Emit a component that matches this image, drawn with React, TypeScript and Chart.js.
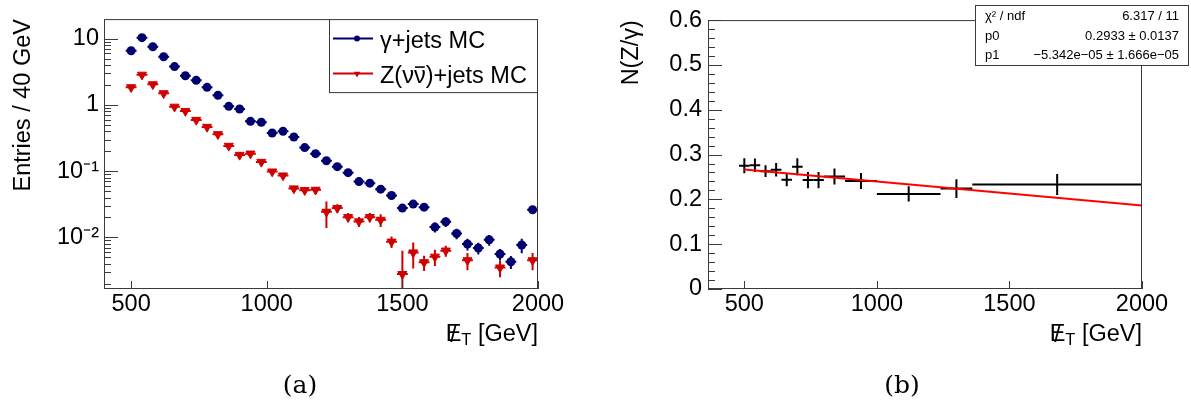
import React, { useEffect, useRef } from 'react';
import { Chart, registerables } from 'chart.js';

Chart.register(...registerables);

const FONT = "'Liberation Sans', Arial, Helvetica, sans-serif";
const SERIF = "'DejaVu Serif', 'Liberation Serif', serif";
const BLUE = '#00006e';
const RED = '#d00000';

// ---------- panel (a): MET spectra ----------
const metBins = [500, 540, 580, 620, 660, 700, 740, 780, 820, 860, 900, 940, 980, 1020, 1060, 1100, 1140, 1180, 1220, 1260, 1300, 1340, 1380, 1420, 1460, 1500, 1540, 1580, 1620, 1660, 1700, 1740, 1780, 1820, 1860, 1900, 1940, 1980];
const metBinHalfWidth = 20;
const gammaJets = [6.6, 10.4, 7.6, 5.35, 3.8, 2.77, 2.36, 1.85, 1.4, 0.955, 0.87, 0.567, 0.548, 0.378, 0.4, 0.329, 0.227, 0.184, 0.144, 0.117, 0.095, 0.0697, 0.066, 0.0535, 0.0429, 0.0277, 0.0318, 0.0286, 0.0143, 0.0172, 0.01145, 0.00793, 0.0069, 0.0092, 0.0056, 0.00428, 0.00766, 0.0261];
const gammaJetsErr = [0.12, 0.18, 0.14, 0.11, 0.085, 0.07, 0.062, 0.052, 0.043, 0.034, 0.031, 0.024, 0.023, 0.018, 0.019, 0.016, 0.013, 0.011, 0.0095, 0.0085, 0.0075, 0.0062, 0.006, 0.0052, 0.0046, 0.0036, 0.0039, 0.0036, 0.0025, 0.0028, 0.0021, 0.0016, 0.0014, 0.0017, 0.0011, 0.00095, 0.0019, 0.0035];
const zNuNuJets = [1.85, 2.86, 2.05, 1.5, 0.94, 0.81, 0.594, 0.466, 0.361, 0.241, 0.176, 0.184, 0.138, 0.0986, 0.0859, 0.0547, 0.0516, 0.0523, 0.0243, 0.0277, 0.0202, 0.0174, 0.0202, 0.0184, 0.0086, 0.00279, 0.0059, 0.0042, 0.0051, 0.0063, null, 0.0045, null, null, 0.0035, null, null, 0.0045];
const zNuNuJetsErr = [0.07, 0.11, 0.08, 0.065, 0.045, 0.04, 0.032, 0.027, 0.022, 0.016, 0.013, 0.013, 0.011, 0.0085, 0.008, 0.0055, 0.0053, 0.0055, 0.0105, 0.004, 0.0032, 0.003, 0.0032, 0.004, 0.0017, 0.0035, 0.0025, 0.0011, 0.0014, 0.0012, null, 0.0013, null, null, 0.001, null, null, 0.0013];
const legendLabels = ['γ+jets MC', 'Z(νν̄)+jets MC'];
const xTicks = [500, 1000, 1500, 2000];
const logTicks = [0.01, 0.1, 1, 10];
const logTickLabels = ['10⁻²', '10⁻¹', '1', '10'];

// ---------- panel (b): ratio with linear fit ----------
const ratioX = [500, 540, 580, 620, 660, 700, 740, 780, 840, 940, 1120, 1300, 1680];
const ratioXErr = [20, 20, 20, 20, 20, 20, 20, 20, 40, 60, 120, 60, 320];
const ratioY = [0.275, 0.276, 0.263, 0.266, 0.244, 0.273, 0.243, 0.243, 0.251, 0.241, 0.212, 0.224, 0.233];
const ratioYErr = [0.017, 0.015, 0.013, 0.015, 0.015, 0.019, 0.018, 0.018, 0.018, 0.018, 0.017, 0.021, 0.0235];
const fitX = [500, 2000];
const fitY = [0.2666, 0.1865];
const ratioTicks = [0, 0.1, 0.2, 0.3, 0.4, 0.5, 0.6];
const statsRows = [
  ['χ² / ndf', '6.317 / 11'],
  ['p0', '0.2933 ± 0.0137'],
  ['p1', '−5.342e−05 ± 1.666e−05'],
];

const TICK_FONT = { family: FONT, size: 23.5 };

// draw text, rendering a combining macron (U+0304) as an overline over the previous glyph
function drawOverlinedText(ctx: CanvasRenderingContext2D, text: string, x: number, y: number, size: number) {
  const chars = Array.from(text);
  let cx = x;
  for (let i = 0; i < chars.length; i++) {
    const ch = chars[i];
    if (ch === '\u0304') continue;
    const w = ctx.measureText(ch).width;
    ctx.fillText(ch, cx, y);
    if (chars[i + 1] === '\u0304') {
      ctx.save();
      ctx.strokeStyle = ctx.fillStyle as string;
      ctx.lineWidth = 1.6;
      ctx.beginPath();
      const by = y - size * 0.66;
      ctx.moveTo(cx + w * 0.08, by);
      ctx.lineTo(cx + w * 0.92, by);
      ctx.stroke();
      ctx.restore();
    }
    cx += w;
  }
}

// ---------- plugins ----------
const errorBarPlugin = {
  id: 'errorBars',
  beforeDatasetsDraw(chart: any) {
    const { ctx, chartArea, scales } = chart;
    ctx.save();
    ctx.beginPath();
    ctx.rect(chartArea.left, chartArea.top, chartArea.right - chartArea.left, chartArea.bottom - chartArea.top);
    ctx.clip();
    chart.data.datasets.forEach((ds: any) => {
      if (!ds.errorBars) return;
      const { xErr, yErr, color, width } = ds.errorBars;
      ctx.strokeStyle = color;
      ctx.lineWidth = width;
      ds.data.forEach((p: any, i: number) => {
        const ex = Array.isArray(xErr) ? xErr[i] : xErr;
        const ey = yErr[i];
        const py = scales.y.getPixelForValue(p.y);
        const px = scales.x.getPixelForValue(p.x);
        ctx.beginPath();
        ctx.moveTo(scales.x.getPixelForValue(p.x - ex), py);
        ctx.lineTo(scales.x.getPixelForValue(p.x + ex), py);
        const lo = p.y - ey;
        const yLo = lo > 0 ? scales.y.getPixelForValue(lo) : chartArea.bottom + 5;
        ctx.moveTo(px, scales.y.getPixelForValue(p.y + ey));
        ctx.lineTo(px, yLo);
        ctx.stroke();
      });
    });
    ctx.restore();
  },
};

const rootAxesPlugin = {
  id: 'rootAxes',
  afterDraw(chart: any, _a: any, opts: any) {
    const { ctx, chartArea, scales } = chart;
    const { left, right, top, bottom } = chartArea;
    ctx.save();
    ctx.strokeStyle = '#3a3a3a';
    ctx.lineWidth = 1;
    ctx.strokeRect(left + 0.5, top + 0.5, right - left - 1, bottom - top - 1);
    ctx.beginPath();
    (opts.yMajor || []).forEach((v: number) => {
      const py = Math.round(scales.y.getPixelForValue(v)) + 0.5;
      ctx.moveTo(left, py);
      ctx.lineTo(left + 14, py);
    });
    (opts.yMinor || []).forEach((v: number) => {
      const py = Math.round(scales.y.getPixelForValue(v)) + 0.5;
      if (py < top || py > bottom) return;
      ctx.moveTo(left, py);
      ctx.lineTo(left + 7, py);
    });
    (opts.xMajor || []).forEach((v: number) => {
      const px = Math.round(scales.x.getPixelForValue(v)) + 0.5;
      ctx.moveTo(px, bottom);
      ctx.lineTo(px, bottom - 8);
    });
    ctx.stroke();

    // x-axis title: E-slash with subscript T
    if (opts.xTitle) {
      const size = 23.5;
      const big = `${size}px ${FONT}`;
      const small = `${size * 0.7}px ${FONT}`;
      const base = bottom + opts.xTitleOffset;
      ctx.fillStyle = '#000';
      ctx.textBaseline = 'alphabetic';
      ctx.font = big;
      const wE = ctx.measureText(opts.xTitle.main).width;
      const wRest = ctx.measureText(opts.xTitle.rest).width;
      ctx.font = small;
      const wSub = ctx.measureText(opts.xTitle.sub).width;
      let x = right - (wE + wSub + wRest);
      ctx.font = big;
      ctx.textAlign = 'left';
      ctx.fillText(opts.xTitle.main, x, base);
      ctx.textAlign = 'center';
      ctx.fillText('/', x + wE / 2, base + 1);
      x += wE;
      ctx.font = small;
      ctx.textAlign = 'left';
      ctx.fillText(opts.xTitle.sub, x, base + 4);
      x += wSub;
      ctx.font = big;
      ctx.fillText(opts.xTitle.rest, x, base);
    }
    ctx.restore();
  },
};

const rootLegendPlugin = {
  id: 'rootLegend',
  afterDraw(chart: any, _a: any, opts: any) {
    if (!opts.show) return;
    const { ctx, chartArea } = chart;
    const w = 209;
    const h = 74;
    const x0 = chartArea.right - w;
    const y0 = chartArea.top;
    ctx.save();
    ctx.fillStyle = '#fff';
    ctx.fillRect(x0, y0, w, h);
    ctx.strokeStyle = '#3a3a3a';
    ctx.lineWidth = 1;
    ctx.strokeRect(x0 + 0.5, y0 + 0.5, w - 1, h - 1);
    chart.data.datasets.forEach((ds: any, i: number) => {
      const cy = y0 + 19.5 + i * 35;
      ctx.strokeStyle = ds.borderColor;
      ctx.lineWidth = 2;
      ctx.beginPath();
      ctx.moveTo(x0 + 4, cy);
      ctx.lineTo(x0 + 44, cy);
      ctx.stroke();
      ctx.fillStyle = ds.backgroundColor;
      ctx.beginPath();
      if (ds.pointStyle === 'triangle') {
        const r = 3.8;
        ctx.moveTo(x0 + 28 - r * 0.866, cy - r * 0.5);
        ctx.lineTo(x0 + 28 + r * 0.866, cy - r * 0.5);
        ctx.lineTo(x0 + 28, cy + r);
        ctx.closePath();
      } else {
        ctx.arc(x0 + 28, cy, 3, 0, Math.PI * 2);
      }
      ctx.fill();
      ctx.fillStyle = '#000';
      ctx.font = `23.5px ${FONT}`;
      ctx.textAlign = 'left';
      ctx.textBaseline = 'alphabetic';
      drawOverlinedText(ctx, ds.label, x0 + 51, cy + 9, 23.5);
    });
    ctx.restore();
  },
};

const statsPlugin = {
  id: 'rootStats',
  afterDraw(chart: any, _a: any, opts: any) {
    if (!opts.rows) return;
    const { ctx } = chart;
    const x0 = 380;
    const y0 = 5.5;
    const w = 213;
    const h = 60;
    ctx.save();
    ctx.fillStyle = '#fff';
    ctx.fillRect(x0, y0, w, h);
    ctx.strokeStyle = '#3a3a3a';
    ctx.lineWidth = 1;
    ctx.strokeRect(x0 + 0.5, y0, w, h);
    ctx.fillStyle = '#000';
    ctx.font = `13px ${FONT}`;
    ctx.textBaseline = 'middle';
    opts.rows.forEach((row: string[], i: number) => {
      const cy = 16.5 + i * 19.7;
      ctx.textAlign = 'left';
      ctx.fillText(row[0], x0 + 10, cy);
      ctx.textAlign = 'right';
      ctx.fillText(row[1], x0 + w - 9, cy);
    });
    ctx.restore();
  },
};

function logMinorTicks(min: number, max: number) {
  const out: number[] = [];
  for (let e = Math.floor(Math.log10(min)); e <= Math.ceil(Math.log10(max)); e++) {
    for (let m = 2; m <= 9; m++) {
      const v = m * Math.pow(10, e);
      if (v >= min && v <= max) out.push(v);
    }
  }
  return out;
}

function linearMinorTicks(min: number, max: number, step: number) {
  const out: number[] = [];
  for (let v = min; v <= max + 1e-9; v += step) out.push(Math.round(v * 1000) / 1000);
  return out;
}

const xScaleBase = (min: number) => ({
  type: 'linear',
  min,
  max: 2000,
  grid: { display: false, drawTicks: false },
  border: { display: false },
  ticks: {
    font: TICK_FONT,
    color: '#000',
    padding: 1,
    autoSkip: false,
    maxRotation: 0,
    callback: (v: any) => String(v),
  },
  afterBuildTicks: (s: any) => {
    s.ticks = xTicks.map((v) => ({ value: v }));
  },
  afterFit: (s: any) => {
    s.height = 116;
  },
});

function SpectrumChart() {
  const ref = useRef<HTMLCanvasElement>(null);
  useEffect(() => {
    if (!ref.current) return;
    const yMin = 0.00166;
    const yMax = 19.85;
    const chart = new Chart(ref.current, {
      type: 'scatter',
      data: {
        datasets: [
          {
            label: legendLabels[0],
            data: metBins.map((x, i) => ({ x, y: gammaJets[i] })),
            backgroundColor: BLUE,
            borderColor: BLUE,
            pointStyle: 'circle',
            pointRadius: 4.5,
            pointHoverRadius: 4.5,
            pointBorderWidth: 0,
            showLine: false,
            errorBars: { xErr: metBinHalfWidth, yErr: gammaJetsErr, color: BLUE, width: 2 },
          } as any,
          {
            label: legendLabels[1],
            data: metBins
              .map((x, i) => ({ x, y: zNuNuJets[i] }))
              .filter((p) => p.y !== null)
              .map((p) => ({ x: p.x, y: p.y as number })),
            backgroundColor: RED,
            borderColor: RED,
            pointStyle: 'triangle',
            pointRotation: 180,
            pointRadius: 5.2,
            pointHoverRadius: 5.2,
            pointBorderWidth: 1,
            showLine: false,
            errorBars: {
              xErr: metBinHalfWidth,
              yErr: zNuNuJetsErr.filter((e) => e !== null),
              color: RED,
              width: 2,
            },
          } as any,
        ],
      },
      options: {
        animation: false,
        responsive: false,
        events: [],
        layout: { padding: { left: 0, top: 19, right: 57, bottom: 0 } },
        plugins: {
          legend: { display: false },
          tooltip: { enabled: false },
          rootAxes: {
            xMajor: xTicks,
            yMajor: logTicks,
            yMinor: logMinorTicks(yMin, yMax),
            xTitle: { main: 'E', sub: 'T', rest: ' [GeV]' },
            xTitleOffset: 52,
          },
          rootLegend: { show: true },
        } as any,
        scales: {
          x: xScaleBase(400),
          y: {
            type: 'logarithmic',
            min: yMin,
            max: yMax,
            grid: { display: false, drawTicks: false },
            border: { display: false },
            ticks: {
              font: TICK_FONT,
              color: '#000',
              padding: 5,
              autoSkip: false,
              callback: (v: any) => {
                const idx = logTicks.findIndex((t) => Math.abs(t - v) / t < 1e-6);
                return idx >= 0 ? logTickLabels[idx] : '';
              },
            },
            afterBuildTicks: (s: any) => {
              s.ticks = logTicks.map((v) => ({ value: v }));
            },
            afterFit: (s: any) => {
              s.width = 104;
            },
            title: {
              display: true,
              text: 'Entries / 40 GeV',
              align: 'end',
              color: '#000',
              font: { family: FONT, size: 23.5 },
              padding: { top: 9, bottom: 0 },
            },
          },
        },
      } as any,
      plugins: [errorBarPlugin, rootAxesPlugin, rootLegendPlugin],
    });
    return () => chart.destroy();
  }, []);
  return <canvas ref={ref} width={595} height={405} style={{ display: 'block' }} />;
}

function RatioChart() {
  const ref = useRef<HTMLCanvasElement>(null);
  useEffect(() => {
    if (!ref.current) return;
    const chart = new Chart(ref.current, {
      type: 'scatter',
      data: {
        datasets: [
          {
            label: 'N(Z/γ)',
            data: ratioX.map((x, i) => ({ x, y: ratioY[i] })),
            backgroundColor: '#000',
            borderColor: '#000',
            pointRadius: 0,
            pointHoverRadius: 0,
            showLine: false,
            errorBars: { xErr: ratioXErr, yErr: ratioYErr, color: '#000', width: 2 },
          } as any,
          {
            label: 'pol1 fit',
            data: fitX.map((x, i) => ({ x, y: fitY[i] })),
            borderColor: '#ff0000',
            backgroundColor: '#ff0000',
            borderWidth: 2,
            pointRadius: 0,
            pointHoverRadius: 0,
            showLine: true,
          } as any,
        ],
      },
      options: {
        animation: false,
        responsive: false,
        events: [],
        layout: { padding: { left: 0, top: 19, right: 49, bottom: 0 } },
        plugins: {
          legend: { display: false },
          tooltip: { enabled: false },
          rootAxes: {
            xMajor: xTicks,
            yMajor: ratioTicks,
            yMinor: linearMinorTicks(0, 0.6, 0.02),
            xTitle: { main: 'E', sub: 'T', rest: ' [GeV]' },
            xTitleOffset: 52,
          },
          rootStats: { rows: statsRows },
        } as any,
        scales: {
          x: xScaleBase(363),
          y: {
            type: 'linear',
            min: 0,
            max: 0.6,
            grid: { display: false, drawTicks: false },
            border: { display: false },
            ticks: { font: TICK_FONT, color: '#000', padding: 6, autoSkip: false },
            afterBuildTicks: (s: any) => {
              s.ticks = ratioTicks.map((v) => ({ value: v }));
            },
            afterFit: (s: any) => {
              s.width = 113;
            },
            title: {
              display: true,
              text: 'N(Z/γ)',
              align: 'end',
              color: '#000',
              font: { family: FONT, size: 23.5 },
              padding: { top: 22, bottom: 0 },
            },
          },
        },
      } as any,
      plugins: [errorBarPlugin, rootAxesPlugin, statsPlugin],
    });
    return () => chart.destroy();
  }, []);
  return <canvas ref={ref} width={596} height={405} style={{ display: 'block' }} />;
}

export default function App() {
  const caption: React.CSSProperties = {
    position: 'absolute',
    top: 370,
    width: 100,
    textAlign: 'center',
    fontFamily: SERIF,
    fontSize: 25,
    lineHeight: '30px',
    color: '#000',
  };
  return (
    <div style={{ position: 'absolute', left: 0, top: 0, width: 1191, height: 405, background: '#fff', overflow: 'hidden' }}>
      <div style={{ position: 'absolute', left: 0, top: 0 }}>
        <SpectrumChart />
      </div>
      <div style={{ position: 'absolute', left: 595, top: 0 }}>
        <RatioChart />
      </div>
      <div style={{ ...caption, left: 250 }}>(a)</div>
      <div style={{ ...caption, left: 852 }}>(b)</div>
    </div>
  );
}
